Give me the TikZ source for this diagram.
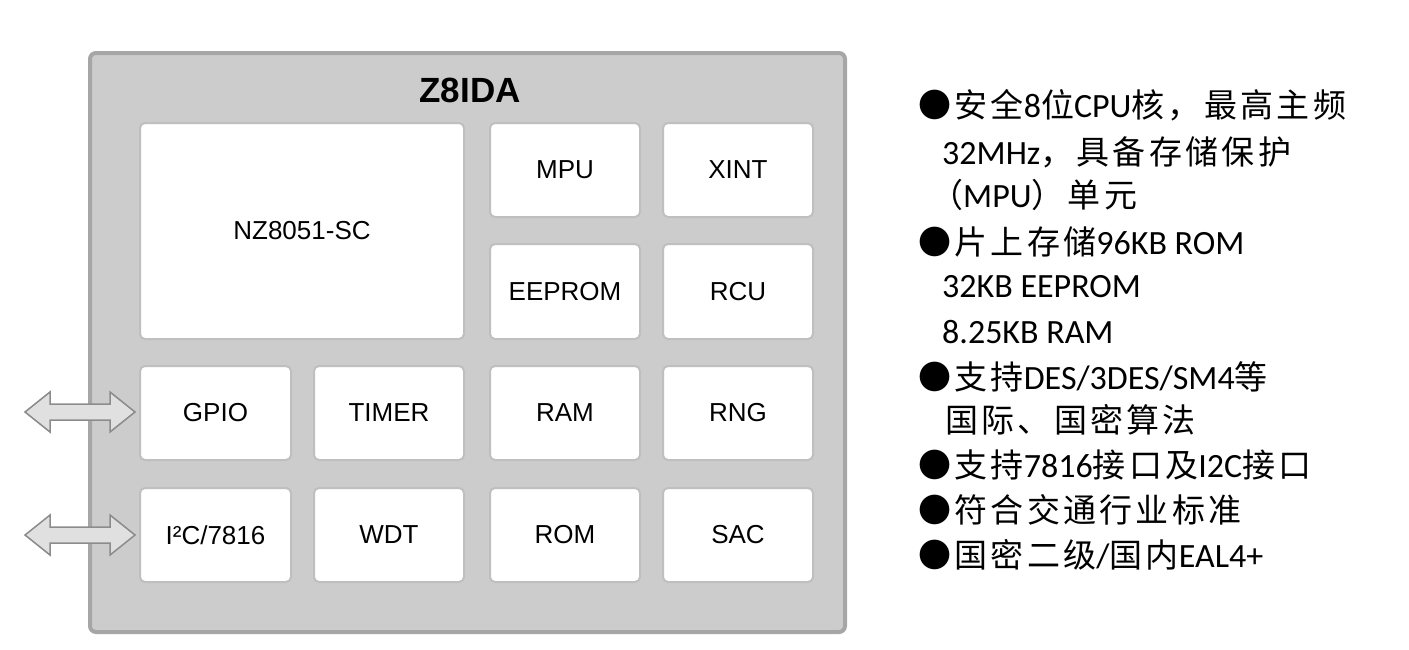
\documentclass[tikz,border=0pt]{standalone}
\usepackage{fontspec}
\setmainfont{Carlito}
\setsansfont{Liberation Sans}
\newfontfamily\cjkf{Noto Sans CJK SC}[LetterSpace=10]
\newcommand\cjk{\cjkf\fontsize{33}{36}\selectfont}
\begin{document}
\begin{tikzpicture}[x=1pt,y=-1pt,
  blk/.style={draw=black!25,line width=2pt,fill=white,rounded corners=5pt},
  lbl/.style={font=\sffamily\fontsize{26}{30}\selectfont},
  txt/.style={anchor=west,font=\fontsize{34}{38}\selectfont,inner sep=0pt},
  dar/.style={draw=black!45,line width=1.5pt,fill=black!12}]
\useasboundingbox (0,0) rectangle (1409,649);
\draw[draw=black!35,line width=4pt,fill=black!20,rounded corners=6pt] (90,53) rectangle (845,632);
\node[font=\sffamily\bfseries\fontsize{35}{40}\selectfont] (title) at (470,90) {Z8IDA};
\newcommand\blkbox[6]{\draw[blk] (#2,#3) rectangle (#4,#5); \node[lbl] (#1) at ({(#2+#4)/2},{(#3+#5)/2}) {#6};}
\blkbox{cpu}{140}{123}{464}{339}{NZ8051-SC}
\blkbox{mpu}{490}{123}{640}{217}{MPU}
\blkbox{xint}{663}{123}{813}{217}{XINT}
\blkbox{eep}{490}{244}{640}{339}{EEPROM}
\blkbox{rcu}{663}{244}{813}{339}{RCU}
\blkbox{gpio}{140}{366}{291}{460}{GPIO}
\blkbox{timer}{314}{366}{464}{460}{TIMER}
\blkbox{ram}{490}{366}{640}{460}{RAM}
\blkbox{rng}{663}{366}{813}{460}{RNG}
\blkbox{iic}{140}{488}{291}{582}{I²C/7816}
\blkbox{wdt}{314}{488}{464}{582}{WDT}
\blkbox{rom}{490}{488}{640}{582}{ROM}
\blkbox{sac}{663}{488}{813}{582}{SAC}
\foreach \y in {412,535}{
  \draw[dar] (25,\y) -- (50,\y-20) -- (50,\y-8) -- (110,\y-8) -- (110,\y-20) -- (135,\y)
    -- (110,\y+20) -- (110,\y+8) -- (50,\y+8) -- (50,\y+20) -- cycle;
}
\node[txt] (t1) at (918,105) {{\cjk ●安全}8{\cjk 位}CPU{\cjk 核，最高主频}};
\node[txt] (t2) at (942,152) {32MHz{\cjk ，具备存储保护}};
\node[txt] (t3) at (930,195) {{\cjk （}MPU{\cjk ）单元}};
\node[txt] (t4) at (918,242) {{\cjk ●片上存储}96KB ROM};
\node[txt] (t5) at (942,287) {32KB EEPROM};
\node[txt] (t6) at (942,332) {8.25KB RAM};
\node[txt] (t7) at (918,377) {{\cjk ●支持}DES/3DES/SM4{\cjk 等}};
\node[txt] (t8) at (945,420) {{\cjk 国际、国密算法}};
\node[txt] (t9) at (918,465) {{\cjk ●支持}7816{\cjk 接口及}I2C{\cjk 接口}};
\node[txt] (t10) at (918,510) {{\cjk ●符合交通行业标准}};
\node[txt] (t11) at (918,555) {{\cjk ●国密二级}/{\cjk 国内}EAL4+};
\end{tikzpicture}
\end{document}
